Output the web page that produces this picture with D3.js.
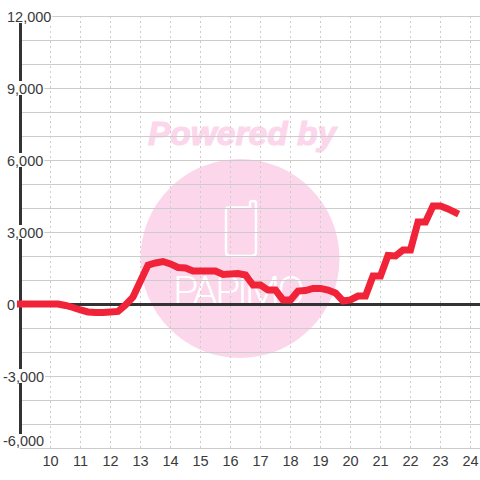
<!DOCTYPE html>
<html><head><meta charset="utf-8">
<script src="https://cdn.jsdelivr.net/npm/d3@7"></script>
<style>html,body{margin:0;padding:0;background:#fff}svg{display:block}text{font-family:"Liberation Sans",Arial,sans-serif}</style>
</head><body><svg id="c" width="480" height="480"></svg>
<script>
const hourTicks=[10,11,12,13,14,15,16,17,18,19,20,21,22,23,24];
const valueTicks=[-6000,-5000,-4000,-3000,-2000,-1000,0,1000,2000,3000,4000,5000,6000,7000,8000,9000,10000,11000,12000];
const startHour=9, stepHours=0.25;
const series=[0,0,0,0,0,0,-60,-145,-250,-330,-350,-350,-330,-310,-40,290,960,1620,1710,1770,1670,1520,1500,1375,1375,1375,1375,1230,1250,1270,1210,790,790,580,580,170,170,540,560,650,650,580,460,125,170,330,330,1170,1170,2020,2000,2250,2250,3420,3420,4080,4080,3960,3810];
const watermarkTop="Powered by", watermarkBottom="PAPIMO";

const svg=d3.select("#c");
const x=d3.scaleLinear().domain([9,24]).range([20,470]);
const y=d3.scaleLinear().domain([-6000,12000]).range([448,16]);
const pink="#fcd7ec", grid="#cccccc", ink="#3a3a3a";

// watermark
const wm=svg.append("g");
wm.append("text").attr("x",242).attr("y",145).attr("text-anchor","middle")
  .attr("font-size",33.5).attr("font-weight","bold").attr("font-style","italic")
  .attr("fill",pink).attr("stroke",pink).attr("stroke-width",1.2).text(watermarkTop);
wm.append("circle").attr("cx",240).attr("cy",258.5).attr("r",99.5).attr("fill",pink);
wm.append("path").attr("d","M228 207.5H250V202.5Q250 201 253 201Q256 201 256 203V252Q256 256 251 256H230Q226 256 226 252V210Q226 207.5 228 207.5Z")
  .attr("fill","none").attr("stroke","#fff").attr("stroke-width",2.4);
wm.append("text").attr("x",239).attr("y",305).attr("text-anchor","middle").attr("font-size",41)
  .attr("textLength",132).attr("lengthAdjust","spacing")
  .style("font-family","Roboto,sans-serif").style("font-weight",300)
  .attr("fill","#fff").text(watermarkBottom);

// vertical grid + hour labels
const xAxis=d3.axisBottom(x).tickValues(hourTicks).tickFormat(d3.format("d")).tickSize(-432).tickPadding(0);
const gx=svg.append("g").attr("transform","translate(0,448)").call(xAxis);
gx.select(".domain").remove();
gx.selectAll("line").attr("stroke",grid).attr("stroke-width",1).attr("stroke-dasharray","2,3");
gx.selectAll("text").attr("y",18).attr("dy",0).attr("font-size",14.5).attr("fill",ink).attr("font-family",'"Liberation Sans",Arial,sans-serif');

// horizontal grid
const yGrid=d3.axisLeft(y).tickValues(valueTicks).tickFormat("").tickSize(-460);
const gy=svg.append("g").attr("transform","translate(20,0)").call(yGrid);
gy.select(".domain").remove();
gy.selectAll("line").attr("stroke",grid).attr("stroke-width",1);

// axis lines
svg.append("line").attr("x1",20.5).attr("x2",20.5).attr("y1",y(12000)).attr("y2",y(-6000)).attr("stroke","#333").attr("stroke-width",3);
svg.append("line").attr("x1",20).attr("x2",480).attr("y1",y(0)+0.5).attr("y2",y(0)+0.5).attr("stroke","#333").attr("stroke-width",3);

// value labels with white backing
const labelTicks=valueTicks.filter(v=>v%3000===0);
const fmt=d3.format(",");
const yLabels=d3.axisLeft(y).tickValues(labelTicks).tickFormat(v=>fmt(v).replace("\u2212","-")).tickSize(0);
const gl=svg.append("g").call(yLabels);
gl.select(".domain").remove();
gl.selectAll("text")
  .attr("text-anchor","start").attr("dy",0)
  .attr("x",d=>d<0?3:7)
  .attr("y",d=>d===-6000?-2.5:5)
  .attr("font-size",14.5).attr("fill",ink).attr("font-family",'"Liberation Sans",Arial,sans-serif')
  .each(function(d){
    const b=this.getBBox();
    d3.select(this.parentNode).insert("rect","text")
      .attr("x",b.x-1).attr("y",d===-6000?-14.5:-7.5).attr("width",b.width+2).attr("height",14).attr("fill","#fff");
  });

// series
const line=d3.line().x((d,i)=>x(startHour+i*stepHours)).y(d=>y(d));
svg.append("path").datum(series).attr("d",line).attr("transform","translate(0.5,0)").attr("fill","none").attr("stroke","#f12338")
  .attr("stroke-width",7).attr("stroke-linejoin","miter").attr("stroke-miterlimit",4).attr("stroke-linecap","square");
</script></body></html>
